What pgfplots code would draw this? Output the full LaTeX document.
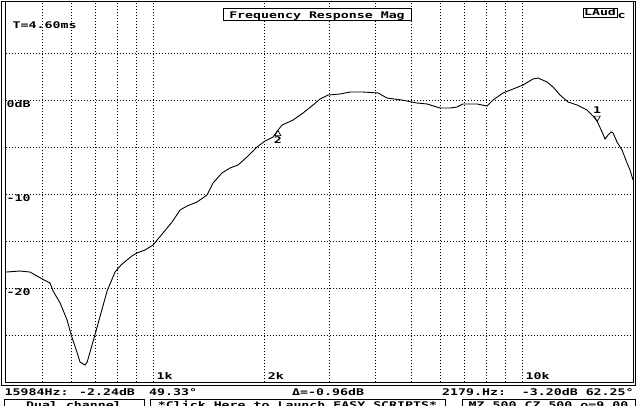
\documentclass[border=0pt]{standalone}
\usepackage{pgfplots}
\pgfplotsset{compat=1.18}
\usepackage{pgfplotstable}
\usepackage{fontspec}
\setmainfont{DejaVu Sans Mono}[FakeStretch=1.44]
\newcommand{\lf}{\fontsize{9.2}{10}\selectfont\bfseries}
\pgfplotstableread{
f dB
400 -18.27
436 -18.16
464 -18.27
500 -18.99
526 -19.44
536 -20.29
560 -21.56
585 -23.37
600 -24.96
622 -26.77
634 -27.84
654 -28.16
663 -27.84
675 -26.77
696 -24.96
719 -22.95
751 -20.29
789 -18.27
819 -17.52
850 -16.99
877 -16.56
905 -16.24
951 -15.93
1000 -15.40
1064 -14.12
1126 -12.95
1184 -11.67
1236 -11.25
1316 -10.82
1401 -10.07
1454 -8.80
1538 -7.73
1617 -7.20
1700 -6.88
1798 -6.03
1914 -4.97
2011 -4.33
2114 -3.91
2179 -3.20
2237 -2.63
2396 -2.10
2550 -1.35
2714 -0.50
2836 0.14
2981 0.56
3213 0.67
3420 0.88
3708 0.88
4072 0.78
4307 0.24
4730 0.03
5194 -0.29
5527 -0.39
5995 -0.82
6381 -0.82
6667 -0.71
6921 -0.39
7552 -0.39
8038 -0.61
8345 0.03
8882 0.78
9454 1.20
10063 1.63
10710 2.27
11049 2.37
11688 1.95
12134 1.41
12677 0.56
13326 -0.18
14094 -0.50
15003 -1.03
15575 -1.67
15984 -2.24
16475 -3.37
16787 -4.12
17105 -3.69
17428 -3.37
17647 -3.48
18092 -4.44
18664 -5.29
19256 -6.67
19620 -7.41
19991 -8.48
}\resp
\begin{document}
\begin{tikzpicture}
\path[use as bounding box] (0pt,0pt) rectangle (639pt,405pt);
\clip (0pt,0pt) rectangle (639pt,405pt);
\begin{axis}[
  at={(5.5pt,22.7pt)}, anchor=south west,
  scale only axis, width=627.6pt, height=381.1pt,
  xmode=log, xmin=398.4, xmax=20000,
  ymin=-30, ymax=10.543,
  xtick={500,600,700,800,900,1000,2000,3000,4000,5000,6000,7000,8000,9000,10000},
  ytick={-25,-20,-15,-10,-5,0,5},
  xticklabels={}, yticklabels={},
  major tick length=0pt,
  grid=major,
  major grid style={black, line width=0.8pt, dash pattern=on 1pt off 2pt},
  axis line style={black, line width=1pt},
  clip=true,
]
\addplot[black, line width=0.9pt, mark=none] table[x=f,y=dB]{\resp};
\addplot[black, line width=0.7pt, mark=triangle, mark size=3.5pt, mark options={yshift=-3.5pt, fill=white}] coordinates {(2179,-3.20)};
\addplot[black, line width=0.7pt, mark=triangle, mark size=3.5pt, mark options={yshift=3.5pt, rotate=180, fill=white}] coordinates {(15984,-2.24)};
\node[anchor=base, font=\lf, inner sep=0pt] at (axis cs:2179,-3.20) [yshift=-13pt] {2};
\node[anchor=base, font=\lf, inner sep=0pt] at (axis cs:15984,-2.24) [yshift=8pt] {1};
\node[anchor=base west, font=\lf, inner sep=0pt] at (axis cs:398.4,0) [xshift=1pt, yshift=-7pt] {0dB};
\node[anchor=base west, font=\lf, inner sep=0pt] at (axis cs:398.4,-10) [xshift=1pt, yshift=-7pt] {-10};
\node[anchor=base west, font=\lf, inner sep=0pt] at (axis cs:398.4,-20) [xshift=1pt, yshift=-7pt] {-20};
\node[anchor=base west, font=\lf, inner sep=0pt] at (axis cs:1000,-30) [xshift=3.5pt, yshift=3.3pt] {1k};
\node[anchor=base west, font=\lf, inner sep=0pt] at (axis cs:2000,-30) [xshift=3.5pt, yshift=3.3pt] {2k};
\node[anchor=base west, font=\lf, inner sep=0pt] at (axis cs:10000,-30) [xshift=3.5pt, yshift=3.3pt] {10k};
\end{axis}
% outer frame
\draw[black, line width=1pt] (1.5pt,403.8pt) -- (1.5pt,20pt) -- (635.8pt,20pt) -- (635.8pt,403.8pt) -- cycle;
% title
\draw[black, line width=1pt, fill=white] (223pt,396pt) rectangle (411pt,384pt);
\node[anchor=base, font=\lf, inner sep=0pt] at (317pt,386.7pt) {Frequency Response Mag};
\node[anchor=base west, font=\lf, inner sep=0pt] at (12.5pt,376.7pt) {T=4.60ms};
\draw[black, line width=1pt, fill=white] (583pt,396.5pt) rectangle (617pt,387.2pt);
\node[anchor=base, font=\lf, inner sep=0pt] at (600pt,389pt) {LAud};
\node[anchor=base west, font=\lf, inner sep=0pt] at (617.5pt,386.5pt) {c};
% status line
\node[anchor=base west, font=\lf, inner sep=0pt] at (4.5pt,9.7pt) {15984Hz: -2.24dB};
\node[anchor=base west, font=\lf, inner sep=0pt] at (149pt,9.7pt) {49.33°};
\node[anchor=base west, font=\lf, inner sep=0pt] at (292pt,9.7pt) {Δ=-0.96dB};
\node[anchor=base west, font=\lf, inner sep=0pt] at (442pt,9.7pt) {2179.Hz:~~-3.20dB 62.25°};
% bottom buttons
\draw[black, line width=1pt] (4pt,-12pt) rectangle (144pt,6pt);
\draw[black, line width=1pt] (150pt,-12pt) rectangle (445pt,6pt);
\draw[black, line width=1pt] (462pt,-12pt) rectangle (635.5pt,6pt);
\node[anchor=base, font=\lf, inner sep=0pt] at (74pt,-3pt) {Dual channel};
\node[anchor=base, font=\lf, inner sep=0pt] at (297.5pt,-3pt) {*Click Here to Launch EASY SCRIPTS*};
\node[anchor=base, font=\lf, inner sep=0pt] at (548.5pt,-3pt) {MZ 500 CZ 500 o=9.00};
\end{tikzpicture}
\end{document}
